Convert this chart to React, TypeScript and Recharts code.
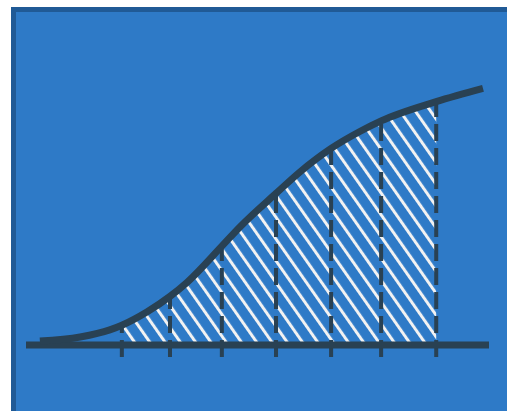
import React from "react";
import { ComposedChart, Area, Line, XAxis, YAxis, ReferenceLine } from "recharts";

// Curve samples (x in 0..100 across the axis, y in 0..100 above it)
const xs = [3.0, 11.7, 18.1, 20.7, 26.1, 31.1, 34.8, 42.3, 46.2, 54, 59.2, 65.9, 72.1, 76.7, 88.6, 98.7];
const curve = [1.5, 3.1, 5.8, 7.6, 12.7, 18.7, 24.1, 38.0, 45.4, 58.3, 66.6, 75.6, 82.1, 86.2, 93.6, 98.7];
// Dashed sample lines and the hatched interval between the first and last one
const dashXs = [20.7, 31.1, 42.3, 54, 65.9, 76.7, 88.6];
const dashBottom = -4.6;

const COLORS = {
  panel: "#2E7AC7",
  border: "#205A96",
  ink: "#294153",
  hatch: "#F2F2F2",
};

const data = xs.map((x, i) => ({
  x,
  curve: curve[i],
  hatch: x >= dashXs[0] && x <= dashXs[dashXs.length - 1] ? curve[i] : null,
}));

const dashLines = dashXs.map((x) => {
  const top = curve[xs.indexOf(x)];
  return [
    { x, y: dashBottom },
    { x, y: top },
  ];
});

export default function App() {
  return (
    <div style={{ position: "absolute", left: 0, top: 0, width: 507, height: 411, overflow: "hidden" }}>
      <div
        style={{
          position: "absolute",
          left: 11,
          top: 7,
          width: 530,
          height: 430,
          background: COLORS.panel,
          borderLeft: `5px solid ${COLORS.border}`,
          borderTop: `5px solid ${COLORS.border}`,
        }}
      />
      <div style={{ position: "absolute", left: 0, top: 0 }}>
        <ComposedChart width={507} height={411} data={data} margin={{ top: 85, right: 18, left: 26, bottom: 40 }}>
          <defs>
            <pattern id="hatch" patternUnits="userSpaceOnUse" width="12.5" height="12.5" patternTransform="rotate(-35)">
              <line x1="1.5" y1="0" x2="1.5" y2="12.5" stroke={COLORS.hatch} strokeWidth={3} />
            </pattern>
          </defs>
          <XAxis type="number" dataKey="x" domain={[0, 100]} hide allowDataOverflow />
          <YAxis type="number" domain={[-10, 100]} hide allowDataOverflow />
          <Area
            type="monotone"
            dataKey="hatch"
            baseValue={0}
            stroke="none"
            fill="url(#hatch)"
            fillOpacity={1}
            isAnimationActive={false}
            dot={false}
            activeDot={false}
          />
          {dashLines.map((pts, i) => (
            <Line
              key={i}
              data={pts}
              dataKey="y"
              type="linear"
              stroke={COLORS.ink}
              strokeWidth={4}
              strokeDasharray="17 7"
              dot={false}
              activeDot={false}
              isAnimationActive={false}
            />
          ))}
          <ReferenceLine y={0} stroke={COLORS.ink} strokeWidth={7} />
          <Line
            type="monotone"
            dataKey="curve"
            stroke={COLORS.ink}
            strokeWidth={7}
            dot={false}
            activeDot={false}
            isAnimationActive={false}
          />
        </ComposedChart>
      </div>
    </div>
  );
}
